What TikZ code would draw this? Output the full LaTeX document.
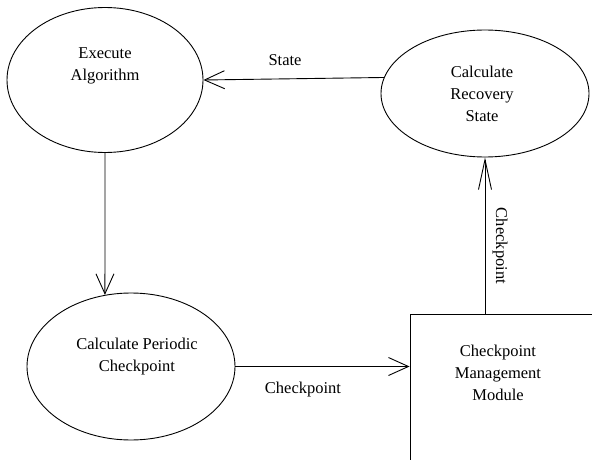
\documentclass[tikz,border=0pt]{standalone}
\usepackage{fontspec}
\setmainfont{Liberation Serif}
\newfontfamily\diagfont{Liberation Serif}
\usetikzlibrary{shapes.geometric,arrows.meta}
\begin{document}
\begin{tikzpicture}[x=1pt,y=-1pt,
  every node/.style={font=\diagfont\fontsize{16.5}{22}\selectfont, align=center},
  proc/.style={draw, ellipse, inner sep=0pt, line width=0.9pt},
  flow/.style={line width=0.9pt, -{Straight Barb[length=20pt,width=18pt]}},
  txt/.style={inner sep=0pt}]
\useasboundingbox (0,0) rectangle (592,460);
\clip (0,0) rectangle (592,460);

% processes
\node[proc, minimum width=196pt, minimum height=145pt] (exec) at (105,80) {};
\node[txt] (exectxt) at (105,66) {Execute\\Algorithm};

\node[proc, minimum width=208pt, minimum height=127pt] (recovery) at (485,93.5) {};
\node[txt] (rectxt) at (482,94) {Calculate\\Recovery\\State};

\node[proc, minimum width=208pt, minimum height=147pt] (periodic) at (131,366.5) {};
\node[txt] (pertxt) at (137,357) {Calculate Periodic\\Checkpoint};

% checkpoint store (runs past the page edge)
\node[draw, line width=0.9pt, minimum width=210pt, minimum height=166pt, inner sep=0pt] (cmm) at (515,397) {};
\node[txt] (cmmtxt) at (498,373) {Checkpoint\\Management\\Module};

% data flows
\draw[flow] (recovery.171) -- (exec.east);
\draw[flow] (exec.south) -- (periodic.110);
\draw[flow] (periodic.east) -- (periodic.east -| cmm.west);
\draw[flow, -{Straight Barb[length=30pt,width=13pt]}] (recovery.south |- cmm.north) -- (recovery.south);

% flow labels
\node[txt] (lstate) at (285,60) {State};
\node[txt] (lchk) at (303,390) {Checkpoint};
\node[txt, rotate=-90] (lchkv) at (500,246) {Checkpoint};
\end{tikzpicture}
\end{document}
